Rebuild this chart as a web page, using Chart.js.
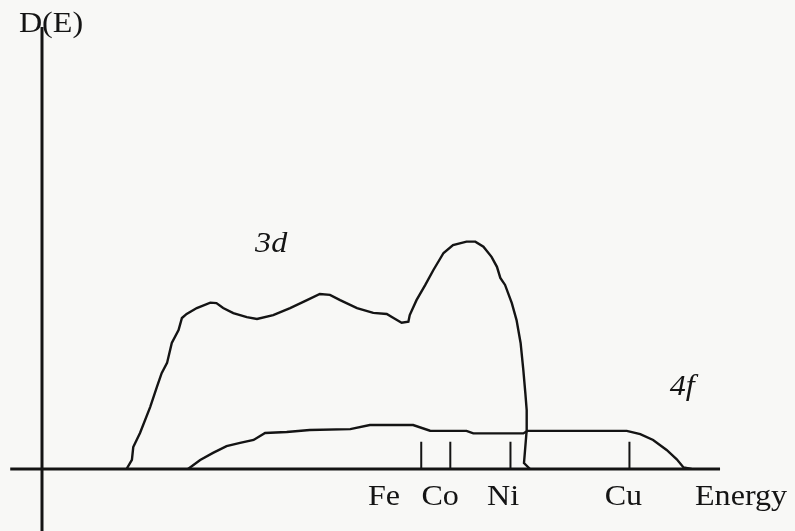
<!DOCTYPE html>
<html>
<head>
<meta charset="utf-8">
<script src="https://cdn.jsdelivr.net/npm/chart.js@4.4.1/dist/chart.umd.min.js"></script>
<style>
	html, body { margin: 0; padding: 0; background: #f8f8f6; }
	canvas { display: block; }
</style>
</head>
<body>
<canvas id="dos-chart" width="795" height="531"></canvas>
<script>
// 3d band density of states (energy, D)
const band3dEnergy = [12.5, 13.3, 13.5, 14.5, 16.0, 17.0, 17.7, 18.5, 19.2, 20.2, 20.7, 21.4, 22.9, 24.9, 25.8,
	26.8, 28.3, 30.3, 31.8, 34.2, 36.7, 39.2, 41.1, 42.6, 44.1, 46.6, 49.0, 51.0, 52.0, 53.2, 54.2, 54.4,
	55.4, 56.7, 57.9, 59.4, 60.8, 62.8, 64.1, 65.3, 66.5, 67.3, 67.8, 68.5, 69.5, 70.2, 70.8, 71.2, 71.5,
	71.7, 71.7, 71.3, 72.2];
const band3dD = [0, 4.0, 9.7, 15.9, 27.3, 36.2, 42.3, 46.8, 55.6, 61.3, 66.6, 68.4, 71.0, 73.4, 73.2,
	71.0, 68.8, 67.0, 66.2, 67.9, 71.0, 74.5, 77.2, 76.8, 74.5, 71.0, 68.9, 68.4, 66.6, 64.5, 65.0, 67.9,
	74.5, 81.2, 87.8, 95.3, 98.8, 100.3, 100.3, 98.1, 93.6, 89.2, 84.3, 81.2, 73.2, 65.7, 55.6, 43.7, 33.5,
	26.0, 17.2, 2.6, 0];

// 4f band density of states (energy, D)
const band4fEnergy = [21.6, 23.4, 25.3, 27.3, 29.3, 31.3, 33.0, 36.2, 39.6, 45.6, 48.5, 54.9, 57.4, 62.8,
	63.8, 71.2, 71.8, 86.5, 88.5, 90.4, 92.4, 93.9, 94.9, 96.1];
const band4fD = [0, 4.0, 7.1, 10.1, 11.5, 12.8, 15.9, 16.3, 17.2, 17.6, 19.4, 19.4, 16.9, 16.8,
	15.7, 15.7, 16.8, 16.8, 15.4, 12.8, 8.4, 4.3, 0.7, 0];

// Fermi level markers on the energy axis
const elements = ['Fe', 'Co', 'Ni', 'Cu'];
const elementEnergy = [56.1, 60.4, 69.3, 86.9];
const elementLabelEnergy = [50.6, 58.9, 68.2, 86.0];
const markerHeight = 12;

const inkColor = '#141414';
const serif = '"Liberation Serif", serif';

function toPoints(xs, ys) {
	return xs.map((x, i) => ({ x: x, y: ys[i] }));
}

// scanned lettering is a little wider than plain Times
function drawText(ctx, text, px, py, align) {
	const stretch = 1.07;
	const w = ctx.measureText(text).width * stretch;
	const left = align === 'center' ? px - w / 2 : px;
	ctx.save();
	ctx.translate(left, py);
	ctx.scale(stretch, 1);
	ctx.textAlign = 'left';
	ctx.fillText(text, 0, 0);
	ctx.restore();
}

const axesPlugin = {
	id: 'sketchAxes',
	afterDatasetsDraw: (chart) => {
		const { ctx, scales: { x, y } } = chart;
		const x0 = x.getPixelForValue(0), y0 = y.getPixelForValue(0);

		ctx.save();
		ctx.strokeStyle = inkColor;
		ctx.fillStyle = inkColor;
		ctx.lineCap = 'butt';

		// axes
		ctx.lineWidth = 3;
		ctx.beginPath();
		ctx.moveTo(x.getPixelForValue(-4.7), y0);
		ctx.lineTo(x.getPixelForValue(100.3), y0);
		ctx.moveTo(x0, y.getPixelForValue(-30));
		ctx.lineTo(x0, y.getPixelForValue(195));
		ctx.stroke();

		// element markers
		ctx.lineWidth = 2;
		ctx.beginPath();
		elementEnergy.forEach(e => {
			const px = x.getPixelForValue(e);
			ctx.moveTo(px, y0);
			ctx.lineTo(px, y.getPixelForValue(markerHeight));
		});
		ctx.stroke();

		// labels
		ctx.font = '30px ' + serif;
		ctx.textBaseline = 'alphabetic';
		elements.forEach((name, i) => {
			drawText(ctx, name, x.getPixelForValue(elementLabelEnergy[i]), y0 + 36, 'center');
		});
		drawText(ctx, 'Energy', x.getPixelForValue(96.6), y0 + 36, 'left');
		drawText(ctx, 'D(E)', x0 + 9, y.getPixelForValue(193), 'center');

		ctx.font = 'italic 30px ' + serif;
		ctx.textBaseline = 'middle';
		drawText(ctx, '3d', x.getPixelForValue(33.9), y.getPixelForValue(99), 'center');
		drawText(ctx, '4f', x.getPixelForValue(94.7), y.getPixelForValue(36), 'center');
		ctx.restore();
	}
};

new Chart(document.getElementById('dos-chart'), {
	type: 'scatter',
	data: {
		datasets: [{
			label: '3d',
			data: toPoints(band3dEnergy, band3dD),
			showLine: true,
			borderColor: inkColor,
			borderWidth: 2.4,
			pointRadius: 0,
			tension: 0
		}, {
			label: '4f',
			data: toPoints(band4fEnergy, band4fD),
			showLine: true,
			borderColor: inkColor,
			borderWidth: 2.4,
			pointRadius: 0,
			tension: 0
		}]
	},
	options: {
		responsive: false,
		animation: false,
		layout: {
			padding: { left: 42, right: 77, top: 27, bottom: 62 }
		},
		scales: {
			x: { type: 'linear', min: 0, max: 100, display: false },
			y: { type: 'linear', min: 0, max: 195, display: false }
		},
		plugins: {
			legend: { display: false },
			tooltip: { enabled: false }
		}
	},
	plugins: [axesPlugin]
});
</script>
</body>
</html>
